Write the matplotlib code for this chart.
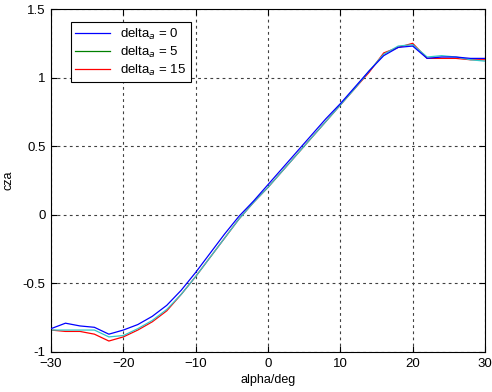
import matplotlib
matplotlib.use("Agg")
import matplotlib.pyplot as plt
from matplotlib.lines import Line2D

plt.rcParams['font.family'] = ['Liberation Sans', 'DejaVu Sans']

# angle of attack (deg)
alpha = [-30, -28, -26, -24, -22, -20, -18, -16, -14, -12, -10, -8, -6, -4, -2,
         0, 2, 4, 6, 8, 10, 12, 14, 16, 18, 20, 22, 24, 26, 28, 30]

cza_0 = [-0.83, -0.79, -0.81, -0.82, -0.87, -0.84, -0.80, -0.74, -0.66, -0.55, -0.42,
         -0.28, -0.14, -0.01, 0.10, 0.22, 0.34, 0.46, 0.58, 0.70, 0.81, 0.93, 1.05,
         1.16, 1.22, 1.23, 1.14, 1.15, 1.15, 1.14, 1.14]
cza_5 = [-0.84, -0.84, -0.84, -0.84, -0.89, -0.88, -0.83, -0.77, -0.69, -0.58, -0.45,
         -0.31, -0.17, -0.03, 0.09, 0.20, 0.32, 0.44, 0.56, 0.68, 0.80, 0.92, 1.05,
         1.17, 1.23, 1.24, 1.15, 1.16, 1.15, 1.13, 1.12]
cza_15 = [-0.84, -0.85, -0.85, -0.87, -0.92, -0.89, -0.84, -0.78, -0.70, -0.58, -0.45,
          -0.31, -0.17, -0.03, 0.09, 0.20, 0.32, 0.44, 0.56, 0.68, 0.80, 0.92, 1.04,
          1.18, 1.22, 1.25, 1.14, 1.14, 1.14, 1.13, 1.13]

labels = ['delta$_a$ = 0', 'delta$_a$ = 5', 'delta$_a$ = 15']

fig = plt.figure(figsize=(4.92, 3.92), dpi=100)
ax = fig.add_axes([51 / 492, 40 / 392, 434 / 492, 343 / 392])

ax.plot(alpha, cza_0, color='#0000ff', lw=0.9, zorder=3)
ax.plot(alpha, cza_5, color='#30c8c8', lw=0.9, zorder=2)
ax.plot(alpha, cza_15, color='#ff0000', lw=0.9, zorder=1)

ax.set_xlim(-30, 30)
ax.set_ylim(-1, 1.5)
ax.set_xticks(range(-30, 31, 10))
ax.set_yticks([-1, -0.5, 0, 0.5, 1, 1.5])
ax.set_yticklabels(['-1', '-0.5', '0', '0.5', '1', '1.5'])
ax.grid(True, color='#404040', linestyle=(0, (2.5, 3)), linewidth=0.8)
ax.tick_params(direction='in', labelsize=9.5, length=4, top=True, right=True,
               labeltop=False, labelright=False, pad=4)
for s in ax.spines.values():
    s.set_linewidth(0.8)

ax.set_xlabel('alpha/deg', fontsize=9, labelpad=3)
ax.set_ylabel('cza', fontsize=9, labelpad=6)

handles = [Line2D([], [], color=c, lw=0.9) for c in ['#0000ff', '#008000', '#ff0000']]
leg = ax.legend(handles, labels, loc='upper left', bbox_to_anchor=(0.03, 0.98),
                fontsize=9.5, fancybox=False, framealpha=1, edgecolor='black',
                handlelength=2.6, borderpad=0.35, labelspacing=0.2)
leg.get_frame().set_linewidth(0.8)

fig.savefig('out.png', dpi=100)
